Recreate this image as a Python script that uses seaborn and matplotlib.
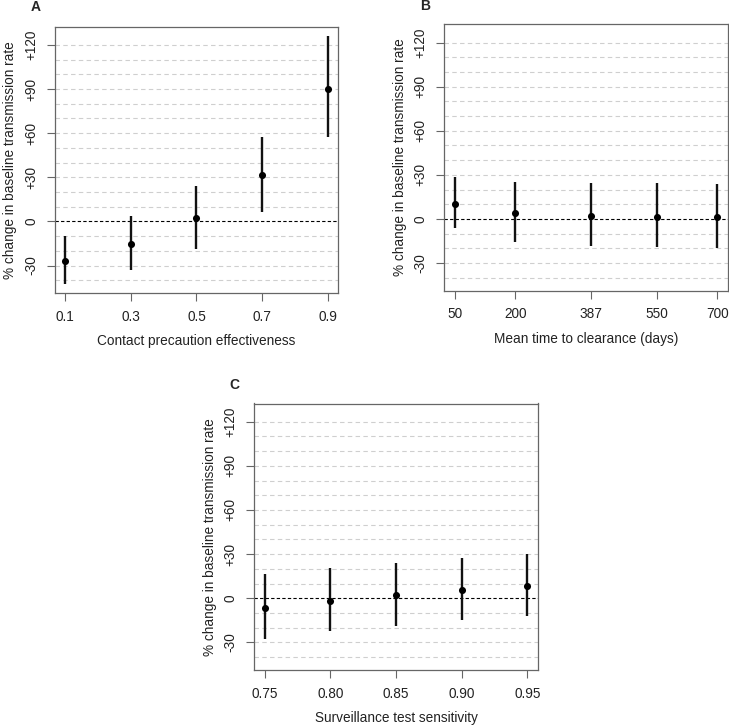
import matplotlib
matplotlib.use("Agg")
import matplotlib.pyplot as plt
import seaborn as sns
import pandas as pd

# ---- data ----
A_x = [0.1, 0.3, 0.5, 0.7, 0.9]
A_mid = [-27.2, -15.4, 2.0, 31.5, 90.3]
A_lo = [-42.3, -32.8, -18.5, 6.3, 57.7]
A_hi = [-10.2, 3.4, 24.2, 57.7, 125.8]
A_ticklabels = ["0.1", "0.3", "0.5", "0.7", "0.9"]

B_x = [50, 200, 387, 550, 700]
B_mid = [10.4, 4.1, 2.2, 1.6, 1.1]
B_lo = [-6.4, -15.9, -18.6, -19.3, -19.7]
B_hi = [28.3, 24.9, 24.4, 24.4, 24.0]
B_ticklabels = ["50", "200", "387", "550", "700"]

C_x = [0.75, 0.80, 0.85, 0.90, 0.95]
C_mid = [-6.6, -1.8, 2.0, 5.4, 8.4]
C_lo = [-27.4, -22.6, -18.8, -14.7, -11.8]
C_hi = [16.3, 20.6, 24.2, 27.2, 30.3]
C_ticklabels = ["0.75", "0.80", "0.85", "0.90", "0.95"]

y_ticks = [-30, 0, 30, 60, 90, 120]
y_ticklabels = ["-30", "0", "+30", "+60", "+90", "+120"]
grid_levels = [-40, -30, -20, -10, 10, 20, 30, 40, 50, 60, 70, 80, 90, 100, 110, 120]

ylabel = "% change in baseline transmission rate"
xlabels = ["Contact precaution effectiveness", "Mean time to clearance (days)",
           "Surveillance test sensitivity"]
letters = ["A", "B", "C"]

sns.set_style("ticks")
plt.rcParams['font.family'] = ['Liberation Sans', 'DejaVu Sans']

W, H = 729, 728
fig = plt.figure(figsize=(W / 100, H / 100), dpi=100)

def px_axes(left, top, width=283.5, height=266.5):
    return fig.add_axes([left / W, 1 - (top + height) / H, width / W, height / H])

panels = [
    (px_axes(54.7, 26.7), A_x, A_mid, A_lo, A_hi, A_ticklabels, (0.068, 0.932)),
    (px_axes(444.3, 24.3), B_x, B_mid, B_lo, B_hi, B_ticklabels, (24, 726)),
    (px_axes(254.3, 403.5), C_x, C_mid, C_lo, C_hi, C_ticklabels, (0.742, 0.958)),
]

spine_col = "#666666"
fs = 9.8

for i, (ax, xs, mid, lo, hi, tl, xlim) in enumerate(panels):
    for g in grid_levels:
        ax.axhline(g, color="#cfcfcf", lw=0.8, ls=(0, (4, 3)), zorder=1)
    ax.axhline(0, color="black", lw=0.8, ls=(0, (3, 2)), zorder=2)
    df = pd.DataFrame({"x": xs, "mid": mid, "lo": lo, "hi": hi})
    ax.vlines(df["x"], df["lo"], df["hi"], color="#111111", lw=1.7, zorder=3)
    sns.scatterplot(data=df, x="x", y="mid", ax=ax, color="black", s=26,
                    edgecolor="black", linewidth=0, zorder=4)
    ax.set_xlim(*xlim)
    ax.set_ylim(-48.8, 132.4)
    ax.set_xticks(xs)
    ax.set_xticklabels(tl)
    ax.set_yticks(y_ticks)
    ax.set_yticklabels(y_ticklabels, rotation=90, va="center")
    ax.tick_params(axis="both", direction="out", length=5.5, width=0.8,
                   color=spine_col, labelsize=fs, labelcolor="#222222")
    ax.tick_params(axis="x", pad=6.5)
    ax.tick_params(axis="y", pad=6.5)
    for s in ax.spines.values():
        s.set_visible(True)
        s.set_color(spine_col)
        s.set_linewidth(0.9)
    ax.set_xlabel(xlabels[i], fontsize=fs, color="#222222", labelpad=7.5)
    ax.set_ylabel(ylabel, fontsize=fs, color="#222222", labelpad=5)

fig.text(35.7 / W, 1 - 7.3 / H, "A", fontsize=10, fontweight="bold", ha="center", va="center")
fig.text(425 / W, 1 - 6 / H, "B", fontsize=10, fontweight="bold", ha="center", va="center")
fig.text(234 / W, 1 - 385 / H, "C", fontsize=10, fontweight="bold", ha="center", va="center")

fig.savefig("out.png", dpi=100)
